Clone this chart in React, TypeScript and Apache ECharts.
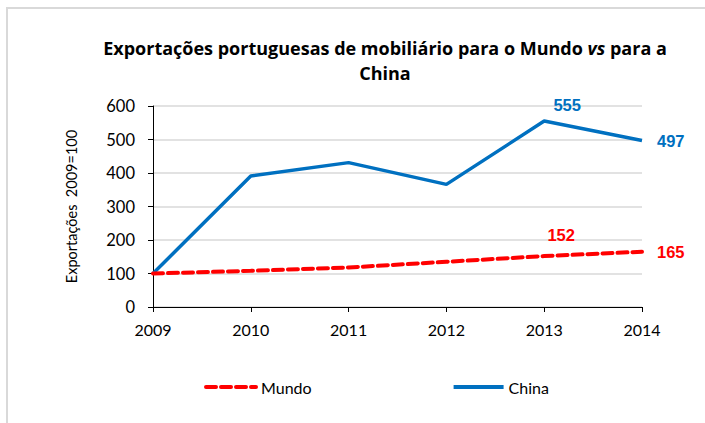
import React, { useEffect, useRef } from "react";
import * as echarts from "echarts";

const years = ["2009", "2010", "2011", "2012", "2013", "2014"];
const mundo = [100, 108, 118, 135, 152, 165];
const china = [100, 391, 431, 366, 555, 497];

export default function App() {
  const ref = useRef<HTMLDivElement>(null);
  useEffect(() => {
    document.body.style.margin = "0";
    if (!ref.current) return;
    const chart = echarts.init(ref.current, null, { renderer: "svg" });
    const font = "Lato, 'Open Sans', sans-serif";
    const titleFont = "'Open Sans', Lato, sans-serif";
    const labelFont = "'Liberation Sans', Arial, sans-serif";
    const mkData = (arr: number[], color: string, topOffset: number[]) =>
      arr.map((v, i) => {
        if (i === 4)
          return {
            value: v,
            label: { show: true, position: "top", offset: topOffset, color, fontWeight: "bold", fontSize: 16.5, fontFamily: labelFont },
          };
        if (i === 5)
          return {
            value: v,
            label: { show: true, position: "right", distance: 15, color, fontWeight: "bold", fontSize: 16.5, fontFamily: labelFont },
          };
        return v;
      });
    chart.setOption({
      animation: false,
      backgroundColor: "#fff",
      textStyle: { fontFamily: font },
      title: {
        text: "{b|Exportações portuguesas de mobiliário para o Mundo }{i|vs}{b| para a}\n{b|China}",
        left: 380,
        textAlign: "center",
        top: 30,
        textStyle: {
          rich: {
            b: { fontFamily: titleFont, fontWeight: "bold", fontSize: 18, color: "#000", lineHeight: 25 },
            i: { fontFamily: titleFont, fontWeight: "bold", fontStyle: "italic", fontSize: 18, color: "#000", lineHeight: 25 },
          },
        },
      },
      graphic: [
        {
          type: "rect",
          shape: { x: 7, y: 8, width: 800, height: 500 },
          style: { fill: "none", stroke: "#d9d9d9", lineWidth: 2 },
          silent: true,
        },
      ],
      legend: {
        left: 199,
        top: 374,
        itemWidth: 50,
        itemHeight: 12,
        itemGap: 140,
        itemStyle: { opacity: 0 },
        lineStyle: { width: 4 },
        textStyle: { fontFamily: font, fontSize: 16, color: "#000" },
        data: ["Mundo", "China"],
      },
      grid: { left: 153, right: 63, top: 106, bottom: 116 },
      xAxis: {
        type: "category",
        data: years,
        boundaryGap: false,
        axisLine: { lineStyle: { color: "#000", width: 1 } },
        axisTick: { show: true, length: 5, lineStyle: { color: "#000" } },
        axisLabel: { color: "#000", fontSize: 16, margin: 14, fontFamily: font },
        splitLine: { show: false },
      },
      yAxis: {
        type: "value",
        min: 0,
        max: 600,
        interval: 100,
        name: "Exportações  2009=100",
        nameLocation: "middle",
        nameGap: 74,
        nameTextStyle: { color: "#000", fontSize: 14.5, fontFamily: font },
        axisLine: { show: true, lineStyle: { color: "#000", width: 1 } },
        axisTick: { show: true, length: 5, lineStyle: { color: "#000" } },
        axisLabel: { color: "#000", fontSize: 16.5, margin: 18, fontFamily: font },
        splitLine: { show: true, lineStyle: { color: "#d9d9d9", width: 1.5 } },
      },
      series: [
        {
          name: "Mundo",
          type: "line",
          data: mkData(mundo, "#ff0000", [17, -8]),
          symbol: "circle",
          symbolSize: 0.01,
          showSymbol: true,
          color: "#ff0000",
          lineStyle: { color: "#ff0000", width: 4, type: [10, 5], cap: "round" },
          z: 3,
        },
        {
          name: "China",
          type: "line",
          data: mkData(china, "#0070c0", [23, -3]),
          symbol: "circle",
          symbolSize: 0.01,
          showSymbol: true,
          color: "#0070c0",
          lineStyle: { color: "#0070c0", width: 3.5 },
          z: 2,
        },
      ],
    });
    return () => chart.dispose();
  }, []);
  return <div ref={ref} style={{ width: 705, height: 423 }} />;
}
